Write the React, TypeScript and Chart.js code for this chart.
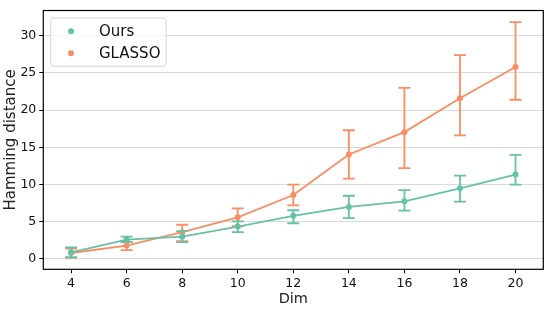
import React, { useEffect, useRef } from "react";
import { Chart, registerables } from "chart.js";

Chart.register(...registerables);

const dims = [4, 6, 8, 10, 12, 14, 16, 18, 20];
const oursMean = [0.9, 2.6, 3.0, 4.35, 5.8, 7.0, 7.75, 9.5, 11.35];
const oursLow = [0.25, 2.25, 2.25, 3.6, 4.8, 5.5, 6.5, 7.7, 10.0];
const oursHigh = [1.55, 3.0, 3.75, 5.05, 6.55, 8.5, 9.25, 11.2, 14.0];
const glassoMean = [0.8, 1.8, 3.6, 5.6, 8.6, 14.05, 17.05, 21.6, 25.8];
const glassoLow = [0.15, 1.2, 2.4, 4.4, 7.2, 10.8, 12.2, 16.6, 21.4];
const glassoHigh = [1.4, 2.3, 4.6, 6.8, 10.0, 17.3, 23.0, 27.4, 31.85];
const xTicks = [4, 6, 8, 10, 12, 14, 16, 18, 20];
const yTicks = [0, 5, 10, 15, 20, 25, 30];
const seriesLabels = ["Ours", "GLASSO"];
const seriesColors = ["#66c2a5", "#fc8d62"];
const lows = [oursLow, glassoLow];
const highs = [oursHigh, glassoHigh];

const FONT = "'DejaVu Sans', sans-serif";

const errorBarPlugin = {
  id: "errorBars",
  beforeDatasetDraw(chart: any, args: any) {
    const i = args.index;
    const ctx = chart.ctx;
    const xs = chart.scales.x;
    const ys = chart.scales.y;
    ctx.save();
    ctx.strokeStyle = seriesColors[i];
    ctx.lineWidth = 1.8;
    dims.forEach((d, j) => {
      const px = xs.getPixelForValue(d);
      const lo = ys.getPixelForValue(lows[i][j]);
      const hi = ys.getPixelForValue(highs[i][j]);
      ctx.beginPath();
      ctx.moveTo(px, lo);
      ctx.lineTo(px, hi);
      ctx.moveTo(px - 6, lo);
      ctx.lineTo(px + 6, lo);
      ctx.moveTo(px - 6, hi);
      ctx.lineTo(px + 6, hi);
      ctx.stroke();
    });
    ctx.restore();
  },
};

const framePlugin = {
  id: "frameLegend",
  afterDraw(chart: any) {
    const ctx = chart.ctx;
    const a = chart.chartArea;
    ctx.save();
    ctx.strokeStyle = "#000";
    ctx.lineWidth = 1.2;
    ctx.strokeRect(a.left, a.top, a.right - a.left, a.bottom - a.top);

    // legend
    ctx.font = `15px ${FONT}`;
    const tw = Math.max(...seriesLabels.map((s) => ctx.measureText(s).width));
    const bx = a.left + 7.4;
    const by = a.top + 7.4;
    const bw = 48 + tw + 6;
    const bh = 48.3;
    const r = 3;
    ctx.beginPath();
    ctx.moveTo(bx + r, by);
    ctx.lineTo(bx + bw - r, by);
    ctx.arcTo(bx + bw, by, bx + bw, by + r, r);
    ctx.lineTo(bx + bw, by + bh - r);
    ctx.arcTo(bx + bw, by + bh, bx + bw - r, by + bh, r);
    ctx.lineTo(bx + r, by + bh);
    ctx.arcTo(bx, by + bh, bx, by + bh - r, r);
    ctx.lineTo(bx, by + r);
    ctx.arcTo(bx, by, bx + r, by, r);
    ctx.closePath();
    ctx.fillStyle = "rgba(255,255,255,0.8)";
    ctx.fill();
    ctx.strokeStyle = "#d6d6d6";
    ctx.lineWidth = 1;
    ctx.stroke();
    seriesLabels.forEach((s, k) => {
      const cy = by + 13.4 + k * 22;
      ctx.beginPath();
      ctx.arc(bx + 20.3, cy, 3, 0, Math.PI * 2);
      ctx.fillStyle = seriesColors[k];
      ctx.fill();
      ctx.fillStyle = "#111";
      ctx.textBaseline = "middle";
      ctx.textAlign = "left";
      ctx.fillText(s, bx + 48.3, cy + 0.5);
    });
    ctx.restore();
  },
};

export default function App() {
  const ref = useRef<HTMLCanvasElement | null>(null);
  useEffect(() => {
    document.body.style.margin = "0";
    const canvas = ref.current!;
    const chart = new Chart(canvas, {
      type: "line",
      data: {
        datasets: [
          {
            label: seriesLabels[0],
            data: dims.map((d, j) => ({ x: d, y: oursMean[j] })),
            borderColor: seriesColors[0],
            backgroundColor: seriesColors[0],
            borderWidth: 1.8,
            pointRadius: 3,
            pointBorderWidth: 0,
            tension: 0,
          },
          {
            label: seriesLabels[1],
            data: dims.map((d, j) => ({ x: d, y: glassoMean[j] })),
            borderColor: seriesColors[1],
            backgroundColor: seriesColors[1],
            borderWidth: 1.8,
            pointRadius: 3,
            pointBorderWidth: 0,
            tension: 0,
          },
        ],
      },
      options: {
        animation: false,
        responsive: false,
        maintainAspectRatio: false,
        layout: { padding: { left: 2.5, top: 4.3, right: 4.7, bottom: 0 } },
        plugins: {
          legend: { display: false },
          tooltip: { enabled: false },
        },
        scales: {
          x: {
            type: "linear",
            min: 3,
            max: 21,
            afterBuildTicks: (s: any) => {
              s.ticks = xTicks.map((v) => ({ value: v }));
            },
            afterFit: (s: any) => {
              s.height = 39.7;
            },
            grid: {
              drawOnChartArea: false,
              drawTicks: true,
              tickLength: 4,
              tickColor: "#000",
              tickWidth: 1,
            },
            border: { display: false },
            ticks: {
              color: "#111",
              font: { family: FONT, size: 12.5 },
              padding: 3,
              maxRotation: 0,
            },
            title: {
              display: true,
              text: "Dim",
              color: "#222",
              font: { family: FONT, size: 14.5 },
              padding: { top: 0, bottom: 1 },
            },
          },
          y: {
            type: "linear",
            min: -1.39,
            max: 33.4,
            afterBuildTicks: (s: any) => {
              s.ticks = yTicks.map((v) => ({ value: v }));
            },
            afterFit: (s: any) => {
              s.width = 40.8;
            },
            grid: {
              color: "#dadada",
              lineWidth: 1,
              drawTicks: true,
              tickLength: 4,
              tickColor: "#000",
            },
            border: { display: false },
            ticks: {
              color: "#111",
              font: { family: FONT, size: 12.5 },
              padding: 3,
            },
            title: {
              display: true,
              text: "Hamming distance",
              color: "#222",
              font: { family: FONT, size: 15 },
              padding: { top: 0, bottom: 0 },
            },
          },
        },
      },
      plugins: [errorBarPlugin, framePlugin],
    } as any);
    return () => chart.destroy();
  }, []);
  return (
    <div style={{ position: "absolute", left: 0, top: 0, width: 548, height: 309 }}>
      <canvas ref={ref} width={548} height={309} style={{ width: 548, height: 309 }} />
    </div>
  );
}
